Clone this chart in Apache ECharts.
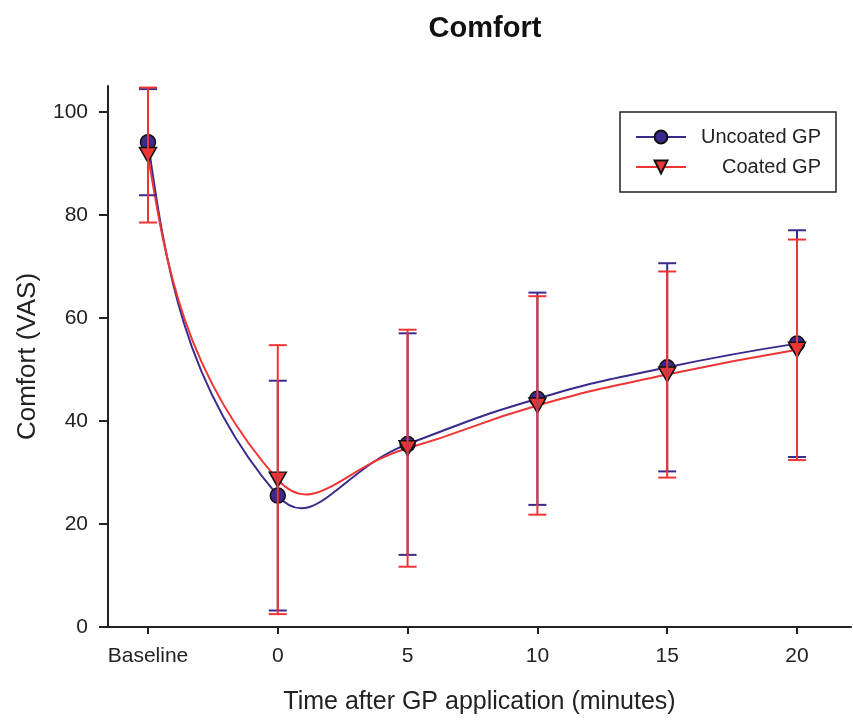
<!DOCTYPE html>
<html>
<head>
<meta charset="utf-8">
<script src="https://cdn.jsdelivr.net/npm/echarts@6/dist/echarts.min.js"></script>
<style>html,body{margin:0;padding:0;background:#fff;}#c{width:853px;height:720px;}</style>
</head>
<body>
<div id="c"></div>
<script>
// Categories (time points) and their positions on the time axis (Baseline drawn at -5)
const categories = ['Baseline', '0', '5', '10', '15', '20'];
const timePos = [-5, 0, 5, 10, 15, 20];
// Series means and error (SD)
const uncoatedMean = [94.1, 25.5, 35.5, 44.3, 50.4, 55.0];
const uncoatedErr  = [10.3, 22.3, 21.5, 20.6, 20.2, 22.0];
const coatedMean   = [91.6, 28.6, 34.7, 43.0, 49.0, 53.8];
const coatedErr    = [13.1, 26.1, 23.0, 21.2, 20.0, 21.4];
const yTicks = [0, 20, 40, 60, 80, 100];

const FONT = "'Liberation Sans', Arial, sans-serif";
const BLUE = '#3a2a8c';
const RED = '#ee3535';

function pts(mean) { return timePos.map((t, i) => [t, mean[i]]); }
function errs(mean, err) { return timePos.map((t, i) => [t, mean[i] - err[i], mean[i] + err[i]]); }

function errRender(color) {
  return function (params, api) {
    const x = api.value(0);
    const lo = api.coord([x, api.value(1)]);
    const hi = api.coord([x, api.value(2)]);
    const hw = 9;
    const st = { stroke: color, lineWidth: 2 };
    return {
      type: 'group',
      children: [
        { type: 'line', shape: { x1: lo[0], y1: lo[1], x2: hi[0], y2: hi[1] }, style: st },
        { type: 'line', shape: { x1: lo[0] - hw, y1: lo[1], x2: lo[0] + hw, y2: lo[1] }, style: st },
        { type: 'line', shape: { x1: hi[0] - hw, y1: hi[1], x2: hi[0] + hw, y2: hi[1] }, style: st }
      ]
    };
  };
}

// Smooth spline segment (cardinal-style bezier with natural ends) between data points,
// positioned through the chart's own axes via api.coord.
function curveRender(mean, color) {
  const s = 0.5;
  return function (params, api) {
    const i = params.dataIndex;
    const n = timePos.length;
    if (i >= n - 1) return { type: 'group', children: [] };
    const P = timePos.map((t, k) => api.coord([t, mean[k]]));
    function cps(k) {
      const p = P[k];
      const prev = P[k - 1], next = P[k + 1];
      const vx = (next[0] - prev[0]) * s, vy = (next[1] - prev[1]) * s;
      const d0 = Math.hypot(p[0] - prev[0], p[1] - prev[1]);
      const d1 = Math.hypot(next[0] - p[0], next[1] - p[1]);
      const r = d1 / (d0 + d1);
      return {
        out: [p[0] + vx * r, p[1] + vy * r],
        inn: [p[0] - vx * (1 - r), p[1] - vy * (1 - r)]
      };
    }
    let c1, c2;
    if (i === 0) {
      c2 = cps(1).inn;
      c1 = [(P[0][0] + c2[0]) / 2, (P[0][1] + c2[1]) / 2];
    } else if (i + 1 === n - 1) {
      c1 = cps(i).out;
      c2 = [(P[n - 1][0] + c1[0]) / 2, (P[n - 1][1] + c1[1]) / 2];
    } else {
      c1 = cps(i).out;
      c2 = cps(i + 1).inn;
    }
    return {
      type: 'bezierCurve',
      shape: {
        x1: P[i][0], y1: P[i][1], x2: P[i + 1][0], y2: P[i + 1][1],
        cpx1: c1[0], cpy1: c1[1], cpx2: c2[0], cpy2: c2[1]
      },
      style: { stroke: color, lineWidth: 2, fill: null }
    };
  };
}

const chart = echarts.init(document.getElementById('c'), null, { renderer: 'canvas' });
chart.setOption({
  animation: false,
  backgroundColor: '#fff',
  title: {
    text: 'Comfort',
    left: 480, top: 9, textAlign: 'center',
    textStyle: { fontFamily: FONT, fontSize: 29, fontWeight: 'bold', color: '#111' }
  },
  legend: {
    orient: 'vertical',
    left: 620, top: 112,
    padding: [15, 15, 15, 15],
    itemGap: 10,
    itemWidth: 50, itemHeight: 16,
    borderColor: '#222', borderWidth: 1.5,
    data: [
      { name: 'Uncoated GP', lineStyle: { color: BLUE, width: 2, opacity: 1 } },
      { name: 'Coated GP', lineStyle: { color: RED, width: 2, opacity: 1 } }
    ],
    formatter: function (name) { return '{a|' + name + '}'; },
    textStyle: {
      fontFamily: FONT, fontSize: 20, color: '#222',
      rich: { a: { fontFamily: FONT, fontSize: 20, color: '#222', width: 130, align: 'right' } }
    }
  },
  grid: { left: 108, right: 2, top: 86, bottom: 91, containLabel: false },
  xAxis: {
    type: 'value',
    min: -6.54, max: 22.08,
    name: 'Time after GP application (minutes)',
    nameLocation: 'middle', nameGap: 63,
    nameTextStyle: { fontFamily: FONT, fontSize: 25, color: '#222' },
    axisLine: { show: true, onZero: false, lineStyle: { color: '#222', width: 2 } },
    axisTick: { show: true, length: 7, lineStyle: { color: '#222', width: 2 }, customValues: timePos },
    axisLabel: {
      customValues: timePos, margin: 19,
      fontFamily: FONT, fontSize: 21, color: '#222',
      formatter: function (v) { const i = timePos.indexOf(v); return i >= 0 ? categories[i] : ''; }
    },
    splitLine: { show: false }
  },
  yAxis: {
    type: 'value',
    min: 0, max: 105,
    name: 'Comfort (VAS)',
    nameLocation: 'middle', nameGap: 67, nameRotate: 90,
    nameTextStyle: { fontFamily: FONT, fontSize: 26, color: '#222' },
    axisLine: { show: true, onZero: false, lineStyle: { color: '#222', width: 2 } },
    axisTick: { show: true, length: 9, lineStyle: { color: '#222', width: 2 }, customValues: yTicks },
    axisLabel: { customValues: yTicks, margin: 20, fontFamily: FONT, fontSize: 21, color: '#222' },
    splitLine: { show: false }
  },
  series: [
    {
      type: 'custom', name: 'curveU', data: pts(uncoatedMean),
      renderItem: curveRender(uncoatedMean, BLUE), encode: { x: 0, y: 1 }, z: 1, silent: true
    },
    {
      type: 'custom', name: 'curveC', data: pts(coatedMean),
      renderItem: curveRender(coatedMean, RED), encode: { x: 0, y: 1 }, z: 1, silent: true
    },
    {
      name: 'Uncoated GP', type: 'line',
      data: pts(uncoatedMean),
      symbol: 'circle', symbolSize: 15,
      lineStyle: { color: BLUE, width: 2, opacity: 0 },
      itemStyle: { color: BLUE, borderColor: '#111', borderWidth: 1.5 },
      z: 2
    },
    {
      name: 'Coated GP', type: 'line',
      data: pts(coatedMean),
      symbol: 'triangle', symbolRotate: 180, symbolSize: [17, 15],
      lineStyle: { color: RED, width: 2, opacity: 0 },
      itemStyle: { color: RED, borderColor: '#111', borderWidth: 1.5 },
      z: 3
    },
    {
      type: 'custom', name: 'errU', data: errs(uncoatedMean, uncoatedErr),
      renderItem: errRender(BLUE), encode: { x: 0, y: [1, 2] }, z: 4, silent: true
    },
    {
      type: 'custom', name: 'errC', data: errs(coatedMean, coatedErr),
      renderItem: errRender(RED), encode: { x: 0, y: [1, 2] }, z: 5, silent: true
    }
  ]
});
</script>
</body>
</html>
